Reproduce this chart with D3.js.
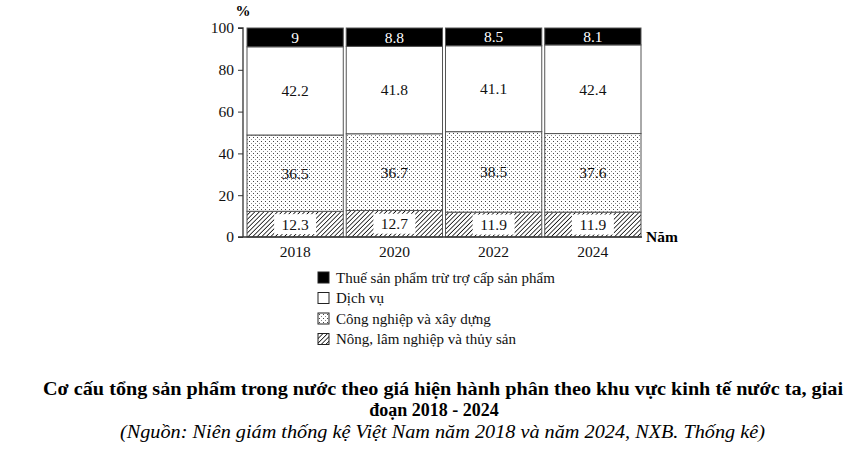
<!DOCTYPE html>
<html>
<head>
<meta charset="utf-8">
<script src="https://cdn.jsdelivr.net/npm/d3@7"></script>
<style>
  body { margin: 0; background: #fff; }
  svg text { font-family: "Liberation Serif", "Times New Roman", serif; }
</style>
</head>
<body>
<div class="chart"></div>
<script>
// du lieu
var years = ["2018", "2020", "2022", "2024"];
var nongLam = [12.3, 12.7, 11.9, 11.9];
var congNghiep = [36.5, 36.7, 38.5, 37.6];
var dichVu = [42.2, 41.8, 41.1, 42.4];
var thue = [9, 8.8, 8.5, 8.1];
var yTicks = [0, 20, 40, 60, 80, 100];

var seriesNames = [
  "Nông, lâm nghiệp và thủy sản",
  "Công nghiệp và xây dựng",
  "Dịch vụ",
  "Thuế sản phẩm trừ trợ cấp sản phẩm"
];
var seriesKeys = ["nong", "cong", "dich", "thue"];

var W = 868, H = 450;
var SERIF = "Liberation Serif";

var svg = d3.select(".chart").append("svg")
  .attr("width", W).attr("height", H);

// patterns
var defs = svg.append("defs");
var dots = defs.append("pattern").attr("id", "dots")
  .attr("patternUnits", "userSpaceOnUse")
  .attr("width", 4).attr("height", 4);
dots.append("rect").attr("width", 4).attr("height", 4).attr("fill", "#fff");
dots.append("rect").attr("x", 1).attr("y", 1).attr("width", 1).attr("height", 1).attr("fill", "#444");
dots.append("rect").attr("x", 3).attr("y", 3).attr("width", 1).attr("height", 1).attr("fill", "#888");

var hatch = defs.append("pattern").attr("id", "hatch")
  .attr("patternUnits", "userSpaceOnUse")
  .attr("width", 3.2).attr("height", 3.2)
  .attr("patternTransform", "rotate(45)");
hatch.append("rect").attr("width", 3.2).attr("height", 3.2).attr("fill", "#fff");
hatch.append("line").attr("x1", 0).attr("y1", 0).attr("x2", 0).attr("y2", 3.2)
  .attr("stroke", "#111").attr("stroke-width", 1.6);

var fills = { nong: "url(#hatch)", cong: "url(#dots)", dich: "#fff", thue: "#000" };

// bang du lieu cho stack
var table = years.map(function (y, i) {
  return { year: y, nong: nongLam[i], cong: congNghiep[i], dich: dichVu[i], thue: thue[i] };
});
var values = { nong: nongLam, cong: congNghiep, dich: dichVu, thue: thue };
var stacked = d3.stack().keys(seriesKeys)(table);

var x = d3.scaleBand().domain(years).range([247, 641]).paddingInner(0.03);
var y = d3.scaleLinear().domain([0, 100]).range([237, 28]);

// bars
var layer = svg.append("g").selectAll("g").data(stacked).enter().append("g")
  .attr("fill", function (d) { return fills[d.key]; });

layer.selectAll("rect").data(function (d) { return d; }).enter().append("rect")
  .attr("x", function (d) { return x(d.data.year); })
  .attr("y", function (d) { return y(d[1]); })
  .attr("width", x.bandwidth())
  .attr("height", function (d) { return y(d[0]) - y(d[1]); })
  .attr("stroke", "#555")
  .attr("stroke-width", 1);

// value labels
stacked.forEach(function (s) {
  var g = svg.append("g");
  s.forEach(function (d, i) {
    var cx = x(d.data.year) + x.bandwidth() / 2;
    var cy = (y(d[0]) + y(d[1])) / 2;
    if (s.key === "nong") {
      g.append("rect").attr("x", cx - 21).attr("y", cy - 10)
        .attr("width", 42).attr("height", 20).attr("fill", "#fff");
    }
    g.append("text").attr("x", cx).attr("y", cy)
      .attr("dy", "0.35em").attr("text-anchor", "middle")
      .attr("font-family", SERIF)
      .attr("font-size", 15.5)
      .attr("fill", s.key === "thue" ? "#fff" : "#111")
      .text(String(values[s.key][i]));
  });
});

// truc y
var yAxis = d3.axisLeft(y).tickValues(yTicks).tickSize(5).tickPadding(4);
var gy = svg.append("g").attr("transform", "translate(243,0)").call(yAxis)
  .attr("font-family", SERIF);
gy.select(".domain").attr("stroke", "#333").attr("stroke-width", 1.3).attr("d", "M-5,28H0V237");
gy.selectAll(".tick line").attr("stroke", "#333");
gy.selectAll("text").attr("font-size", 15.5).attr("fill", "#111");

svg.append("text").attr("x", 243).attr("y", 16).attr("text-anchor", "middle")
  .attr("font-family", SERIF)
  .attr("font-size", 15).attr("font-weight", "bold").text("%");

// truc x
var xAxis = d3.axisBottom(x).tickSize(0).tickPadding(9);
var gx = svg.append("g").attr("transform", "translate(0,237)").call(xAxis)
  .attr("font-family", SERIF);
gx.select(".domain").attr("stroke", "#333").attr("stroke-width", 1.3).attr("d", "M238,0H642");
gx.selectAll("text").attr("font-size", 15.5).attr("fill", "#111");

svg.append("text").attr("x", 646).attr("y", 242)
  .attr("font-family", SERIF)
  .attr("font-size", 15.5).attr("font-weight", "bold").text("Năm");

// chu giai
var legendOrder = [3, 2, 1, 0];
var lg = svg.append("g").attr("transform", "translate(318,272)");
legendOrder.forEach(function (k, i) {
  var row = lg.append("g").attr("transform", "translate(0," + (i * 20.5) + ")");
  row.append("rect").attr("width", 11).attr("height", 11)
    .attr("fill", fills[seriesKeys[k]]).attr("stroke", "#222").attr("stroke-width", 1);
  row.append("text").attr("x", 18).attr("y", 10.5)
    .attr("font-family", SERIF)
    .attr("font-size", 15).attr("fill", "#111").text(seriesNames[k]);
});

// tieu de
svg.append("text").attr("x", 43).attr("y", 395)
  .attr("font-family", SERIF)
  .attr("font-size", 18).attr("font-weight", "bold")
  .attr("textLength", 800).attr("lengthAdjust", "spacingAndGlyphs")
  .text("Cơ cấu tổng sản phẩm trong nước theo giá hiện hành phân theo khu vực kinh tế nước ta, giai");
svg.append("text").attr("x", 434).attr("y", 416).attr("text-anchor", "middle")
  .attr("font-family", SERIF)
  .attr("font-size", 18).attr("font-weight", "bold")
  .text("đoạn 2018 - 2024");
svg.append("text").attr("x", 120).attr("y", 438)
  .attr("font-family", SERIF)
  .attr("font-size", 18.5).attr("font-style", "italic")
  .attr("textLength", 645).attr("lengthAdjust", "spacingAndGlyphs")
  .text("(Nguồn: Niên giám thống kệ Việt Nam năm 2018 và năm 2024, NXB. Thống kê)");
</script>
</body>
</html>
